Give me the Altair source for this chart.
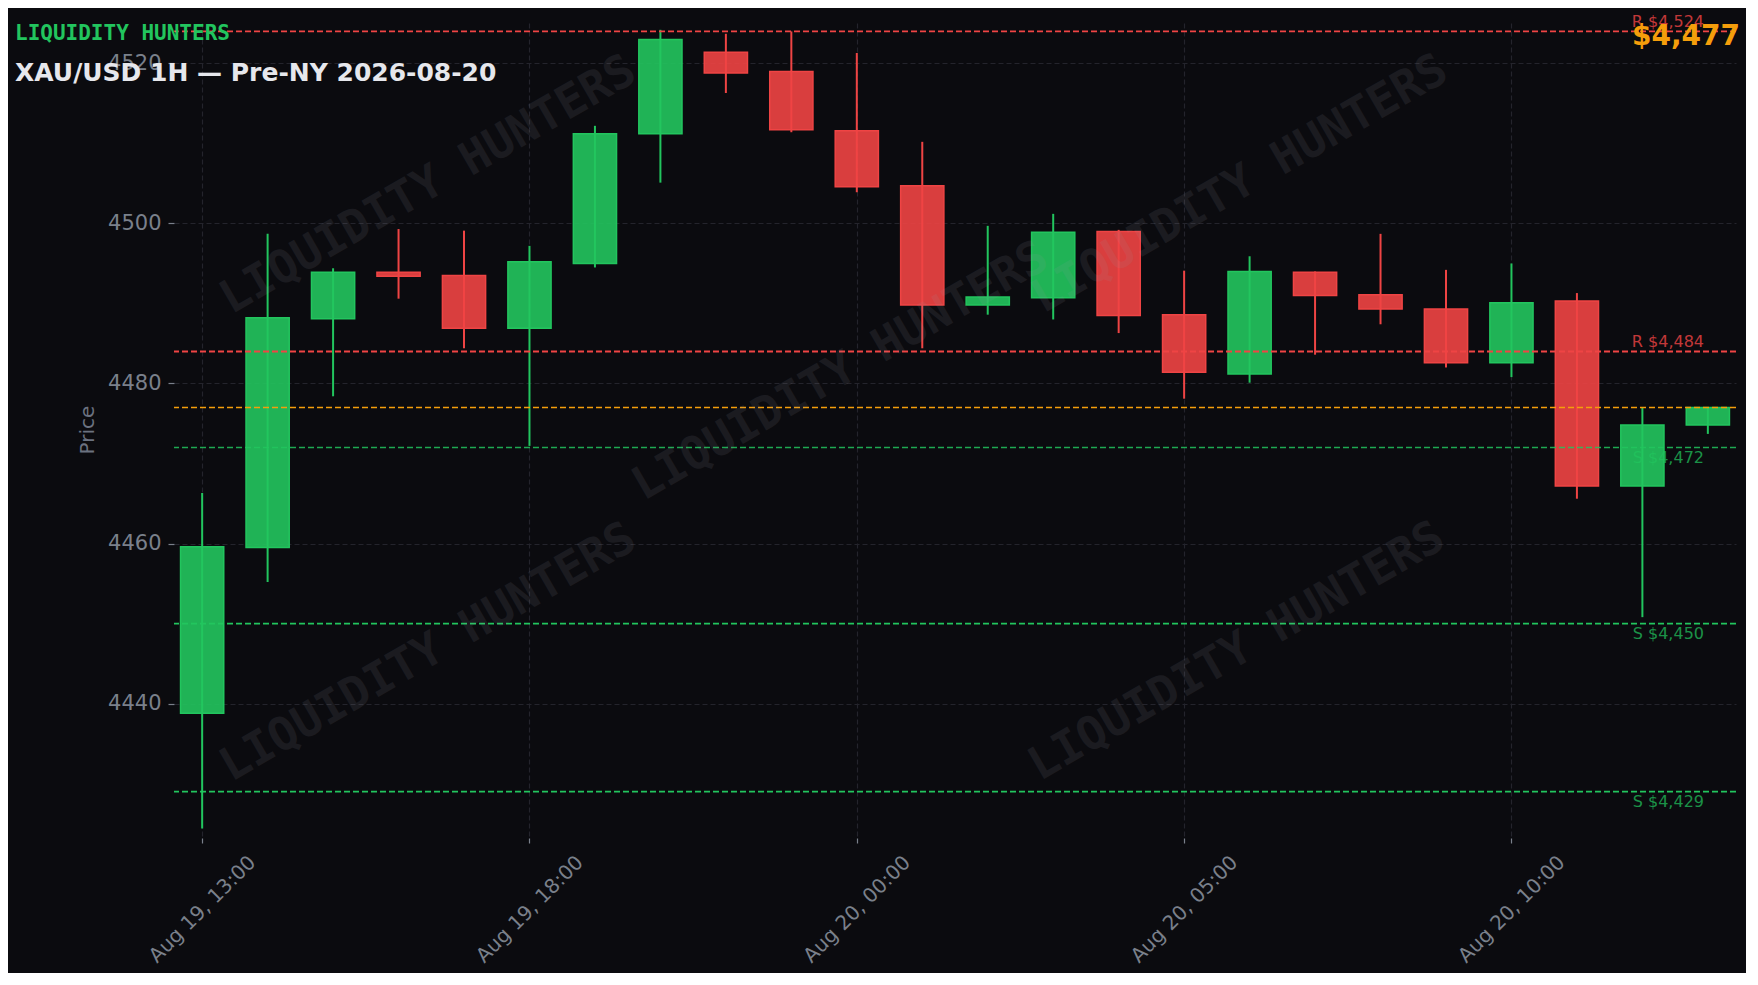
import json
import altair as alt
import pandas as pd

# ---------------- data ----------------
opens = [4438.8, 4459.5, 4488.1, 4493.9, 4493.5, 4486.9, 4495.0, 4511.2, 4521.4, 4519.0,
         4511.6, 4504.7, 4489.8, 4490.7, 4499.0, 4488.6, 4481.2, 4493.9, 4491.1, 4489.3,
         4482.6, 4490.3, 4467.2, 4474.8]
highs = [4466.3, 4498.7, 4494.4, 4499.3, 4499.1, 4497.2, 4512.2, 4524.2, 4523.7, 4524.0,
         4521.3, 4510.2, 4499.7, 4501.2, 4499.2, 4494.1, 4495.9, 4494.0, 4498.7, 4494.2,
         4495.0, 4491.3, 4477.0, 4477.0]
lows = [4424.4, 4455.2, 4478.4, 4490.6, 4484.4, 4472.2, 4494.5, 4505.1, 4516.3, 4511.4,
        4503.9, 4484.4, 4488.6, 4488.0, 4486.3, 4478.1, 4480.1, 4483.6, 4487.4, 4482.0,
        4480.8, 4465.6, 4450.8, 4473.7]
closes = [4459.6, 4488.2, 4493.9, 4493.4, 4486.9, 4495.2, 4511.2, 4523.0, 4518.8, 4511.7,
          4504.6, 4489.8, 4490.8, 4498.9, 4488.5, 4481.4, 4494.0, 4491.0, 4489.3, 4482.6,
          4490.1, 4467.2, 4474.8, 4477.0]

tick_positions = [0, 5, 10, 15, 20]
tick_labels = ["Aug 19, 13:00", "Aug 19, 18:00", "Aug 20, 00:00", "Aug 20, 05:00", "Aug 20, 10:00"]
price_ticks = [4440, 4460, 4480, 4500, 4520]

level_prices = [4524, 4484, 4472, 4450, 4429]
level_kinds = ["R", "R", "S", "S", "S"]
current_price = 4477

brand = "LIQUIDITY HUNTERS"
title_text = "XAU/USD 1H \u2014 Pre-NY 2026-08-20"

wm_x = [3.45, 9.75, 15.85, 3.45, 15.8]
wm_y = [4504.8, 4481.5, 4504.9, 4446.4, 4446.5]

# ---------------- styling ----------------
BG = "#0b0b0f"
GREEN = "#22c55e"
RED = "#ef4444"
ORANGE = "#f59e0b"
GRID = "#24242c"
TICKCOL = "#7a808b"

W, H = 1562, 815
xs = alt.Scale(domain=[-0.43, 23.43], nice=False, zero=False)
ys = alt.Scale(domain=[4423.2, 4525.05], nice=False, zero=False)

df = pd.DataFrame({"i": list(range(len(opens))), "open": opens, "high": highs,
                   "low": lows, "close": closes})
levels = pd.DataFrame({"price": level_prices, "kind": level_kinds})
levels["label"] = [f"{k} ${p:,}" for k, p in zip(level_kinds, level_prices)]
current = pd.DataFrame({"price": [current_price], "label": [f"${current_price:,}"]})
wm = pd.DataFrame({"x": wm_x, "y": wm_y, "t": [brand] * len(wm_x)})

up = "datum.close >= datum.open"
candle_color = alt.condition(up, alt.value(GREEN), alt.value(RED))

pos_js = json.dumps(tick_positions)
lab_js = json.dumps(tick_labels).replace('"', "'")
x_axis = alt.Axis(values=tick_positions, labelExpr=f"{lab_js}[indexof({pos_js}, datum.value)]",
                  title=None, labelAngle=315, labelAlign="center", labelBaseline="middle",
                  labelPadding=66, labelFontSize=20, tickSize=5, domain=False, grid=True)
y_axis = alt.Axis(values=price_ticks, format="d", title=None, tickSize=6, labelPadding=7,
                  domain=False, grid=True)


def X(field):
    return alt.X(field, scale=xs, axis=x_axis)


def Y(field):
    return alt.Y(field, scale=ys, axis=y_axis)


base = alt.Chart(df)

wicks = base.mark_rule(strokeWidth=2).encode(
    x=X("i:Q"), y=Y("low:Q"), y2="high:Q", color=candle_color,
)

bodies = base.transform_calculate(x0="datum.i - 0.33", x1="datum.i + 0.33").mark_rect(
    fillOpacity=0.9, strokeWidth=1.5
).encode(
    x=X("x0:Q"), x2="x1:Q", y=Y("open:Q"), y2="close:Q",
    fill=candle_color, stroke=candle_color,
)

level_lines = alt.Chart(levels).mark_rule(strokeDash=[6, 3]).encode(
    y=Y("price:Q"),
    color=alt.condition("datum.kind == 'R'", alt.value(RED), alt.value(GREEN)),
    strokeWidth=alt.condition("datum.price == 4472", alt.value(1.3), alt.value(1.8)),
    opacity=alt.condition("datum.price == 4472", alt.value(0.85), alt.value(1.0)),
)

current_line = alt.Chart(current).mark_rule(strokeDash=[6, 3], strokeWidth=1.7, color=ORANGE).encode(
    y=Y("price:Q"),
)

watermark = alt.Chart(wm).mark_text(
    font="DejaVu Sans Mono", fontWeight="bold", fontSize=46, angle=330,
    align="center", baseline="middle", color="#9a9aa6", opacity=0.11,
).encode(x=X("x:Q"), y=Y("y:Q"), text="t:N")

r_labels = alt.Chart(levels).transform_filter("datum.kind == 'R'").mark_text(
    fontSize=16, align="right", baseline="bottom", color=RED, opacity=0.8, dy=-1,
).encode(x=alt.value(1530), y=Y("price:Q"), text="label:N")

s_labels = alt.Chart(levels).transform_filter("datum.kind == 'S'").mark_text(
    fontSize=16, align="right", baseline="top", color=GREEN, opacity=0.72, dy=2,
).encode(x=alt.value(1530), y=Y("price:Q"), text="label:N")

price_tag = alt.Chart(current).mark_text(
    fontSize=28, fontWeight="bold", align="right", baseline="alphabetic", color=ORANGE,
).encode(x=alt.value(1566), y=alt.value(21.5), text="label:N")

brand_text = alt.Chart(pd.DataFrame({"t": [brand]})).mark_text(
    font="DejaVu Sans Mono", fontWeight="bold", fontSize=21, align="left",
    baseline="alphabetic", color=GREEN,
).encode(x=alt.value(-159), y=alt.value(16.5), text="t:N")

title_mark = alt.Chart(pd.DataFrame({"t": [title_text]})).mark_text(
    fontWeight="bold", fontSize=25, align="left", baseline="alphabetic", color="#e6e7ec",
).encode(x=alt.value(-159), y=alt.value(58), text="t:N")

price_title = alt.Chart(pd.DataFrame({"t": ["Price"]})).mark_text(
    fontSize=20, angle=270, align="center", baseline="middle", color="#6b7280",
).encode(x=alt.value(-86), y=alt.value(407), text="t:N")

chart = alt.layer(
    wicks, bodies, level_lines, current_line, watermark,
    r_labels, s_labels, price_tag, brand_text, title_mark, price_title,
).properties(
    width=W, height=H,
    autosize=alt.AutoSizeParams(type="none"),
    padding={"left": 166, "top": 15, "right": 10, "bottom": 135},
    background=BG,
).configure(
    font="DejaVu Sans",
).configure_view(
    stroke=None,
).configure_axis(
    labelFont="DejaVu Sans", labelFontSize=21, labelColor=TICKCOL, tickColor=TICKCOL,
    tickWidth=1.2, gridColor=GRID, gridDash=[5, 3], gridWidth=1.2,
)

chart.save("out.html", embed_options={"renderer": "svg", "actions": False})
